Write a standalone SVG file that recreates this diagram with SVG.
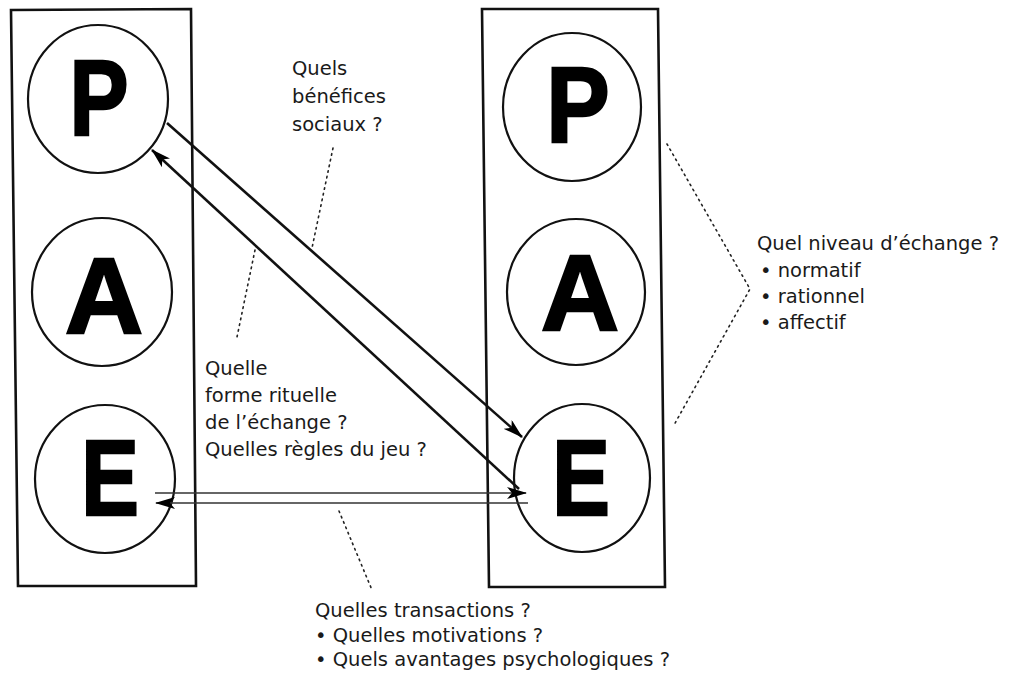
<svg xmlns="http://www.w3.org/2000/svg" width="1016" height="679" viewBox="0 0 1016 679">
<style>
.box{fill:none;stroke:#111;stroke-width:2.6;stroke-linejoin:miter}
.node{fill:none;stroke:#111;stroke-width:2.2}
.big{font-family:"Liberation Sans",Arial,sans-serif;font-weight:bold;font-size:108px;fill:#000;stroke:#000;stroke-width:2.5;text-anchor:middle}
.lbl{font-family:"DejaVu Sans","Liberation Sans",sans-serif;font-size:19.5px;fill:#1a1a1a}
.arr{fill:none;stroke:#111;stroke-width:2.6}
.thin{fill:none;stroke:#333;stroke-width:1.6}
.dot{fill:none;stroke:#222;stroke-width:1.6;stroke-dasharray:1.6 4.2;stroke-linecap:round}
</style>
<defs>
<marker id="ah" viewBox="0 0 20 12" refX="19" refY="6" markerWidth="20" markerHeight="12" markerUnits="userSpaceOnUse" orient="auto">
<path d="M0,0 L20,6 L0,12 L5,6 z" fill="#000"/>
</marker>
</defs>
<rect width="1016" height="679" fill="#fff"/>

<g id="left-box">
<polygon class="box" points="11,10 191,9 196,586 18,586"/>
</g>
<g id="right-box">
<polygon class="box" points="482,9 658,9 665,587 489,587"/>
</g>

<g id="left-P">
<ellipse class="node" cx="98" cy="99" rx="70" ry="74"/>
<text class="big" x="99" y="135" transform="translate(99 0) scale(0.82 1) translate(-99 0)">P</text>
</g>
<g id="left-A">
<ellipse class="node" cx="102" cy="292" rx="70" ry="74"/>
<text class="big" x="104" y="333">A</text>
</g>
<g id="left-E">
<ellipse class="node" cx="105" cy="479" rx="70" ry="74"/>
<text class="big" x="110" y="515" transform="translate(110 0) scale(0.8 1) translate(-110 0)">E</text>
</g>

<g id="right-P">
<ellipse class="node" cx="572" cy="107" rx="69" ry="74"/>
<text class="big" x="578" y="142" transform="translate(578 0) scale(0.88 1) translate(-578 0)">P</text>
</g>
<g id="right-A">
<ellipse class="node" cx="576" cy="292" rx="69" ry="73"/>
<text class="big" x="580" y="330">A</text>
</g>
<g id="right-E">
<ellipse class="node" cx="582" cy="478" rx="68" ry="74"/>
<text class="big" x="581" y="515" transform="translate(581 0) scale(0.8 1) translate(-581 0)">E</text>
</g>

<g id="connectors">
<line class="arr" x1="167" y1="123" x2="522" y2="437" marker-end="url(#ah)"/>
<line class="arr" x1="519" y1="489" x2="152" y2="150" marker-end="url(#ah)"/>
<line class="thin" x1="155" y1="493" x2="526" y2="493" marker-end="url(#ah)"/>
<line class="thin" x1="528" y1="503" x2="156" y2="503" marker-end="url(#ah)"/>
<line class="dot" x1="333" y1="148" x2="312" y2="248"/>
<line class="dot" x1="255" y1="250" x2="237" y2="337"/>
<line class="dot" x1="339" y1="511" x2="372" y2="590"/>
<polyline class="dot" points="667,144 750,289 674,425"/>
</g>

<g id="label-benefices">
<text class="lbl" x="292" y="75">Quels</text>
<text class="lbl" x="292" y="103">bénéfices</text>
<text class="lbl" x="292" y="131">sociaux ?</text>
</g>
<g id="label-forme">
<text class="lbl" x="205" y="375">Quelle</text>
<text class="lbl" x="205" y="402">forme rituelle</text>
<text class="lbl" x="205" y="429">de l’échange ?</text>
<text class="lbl" x="205" y="456">Quelles règles du jeu ?</text>
</g>
<g id="label-niveau">
<text class="lbl" x="757" y="250">Quel niveau d’échange ?</text>
<text class="lbl" x="760" y="277">• normatif</text>
<text class="lbl" x="760" y="303">• rationnel</text>
<text class="lbl" x="760" y="329">• affectif</text>
</g>
<g id="label-transactions">
<text class="lbl" x="315" y="617">Quelles transactions ?</text>
<text class="lbl" x="315" y="642">• Quelles motivations ?</text>
<text class="lbl" x="315" y="666">• Quels avantages psychologiques ?</text>
</g>
</svg>
